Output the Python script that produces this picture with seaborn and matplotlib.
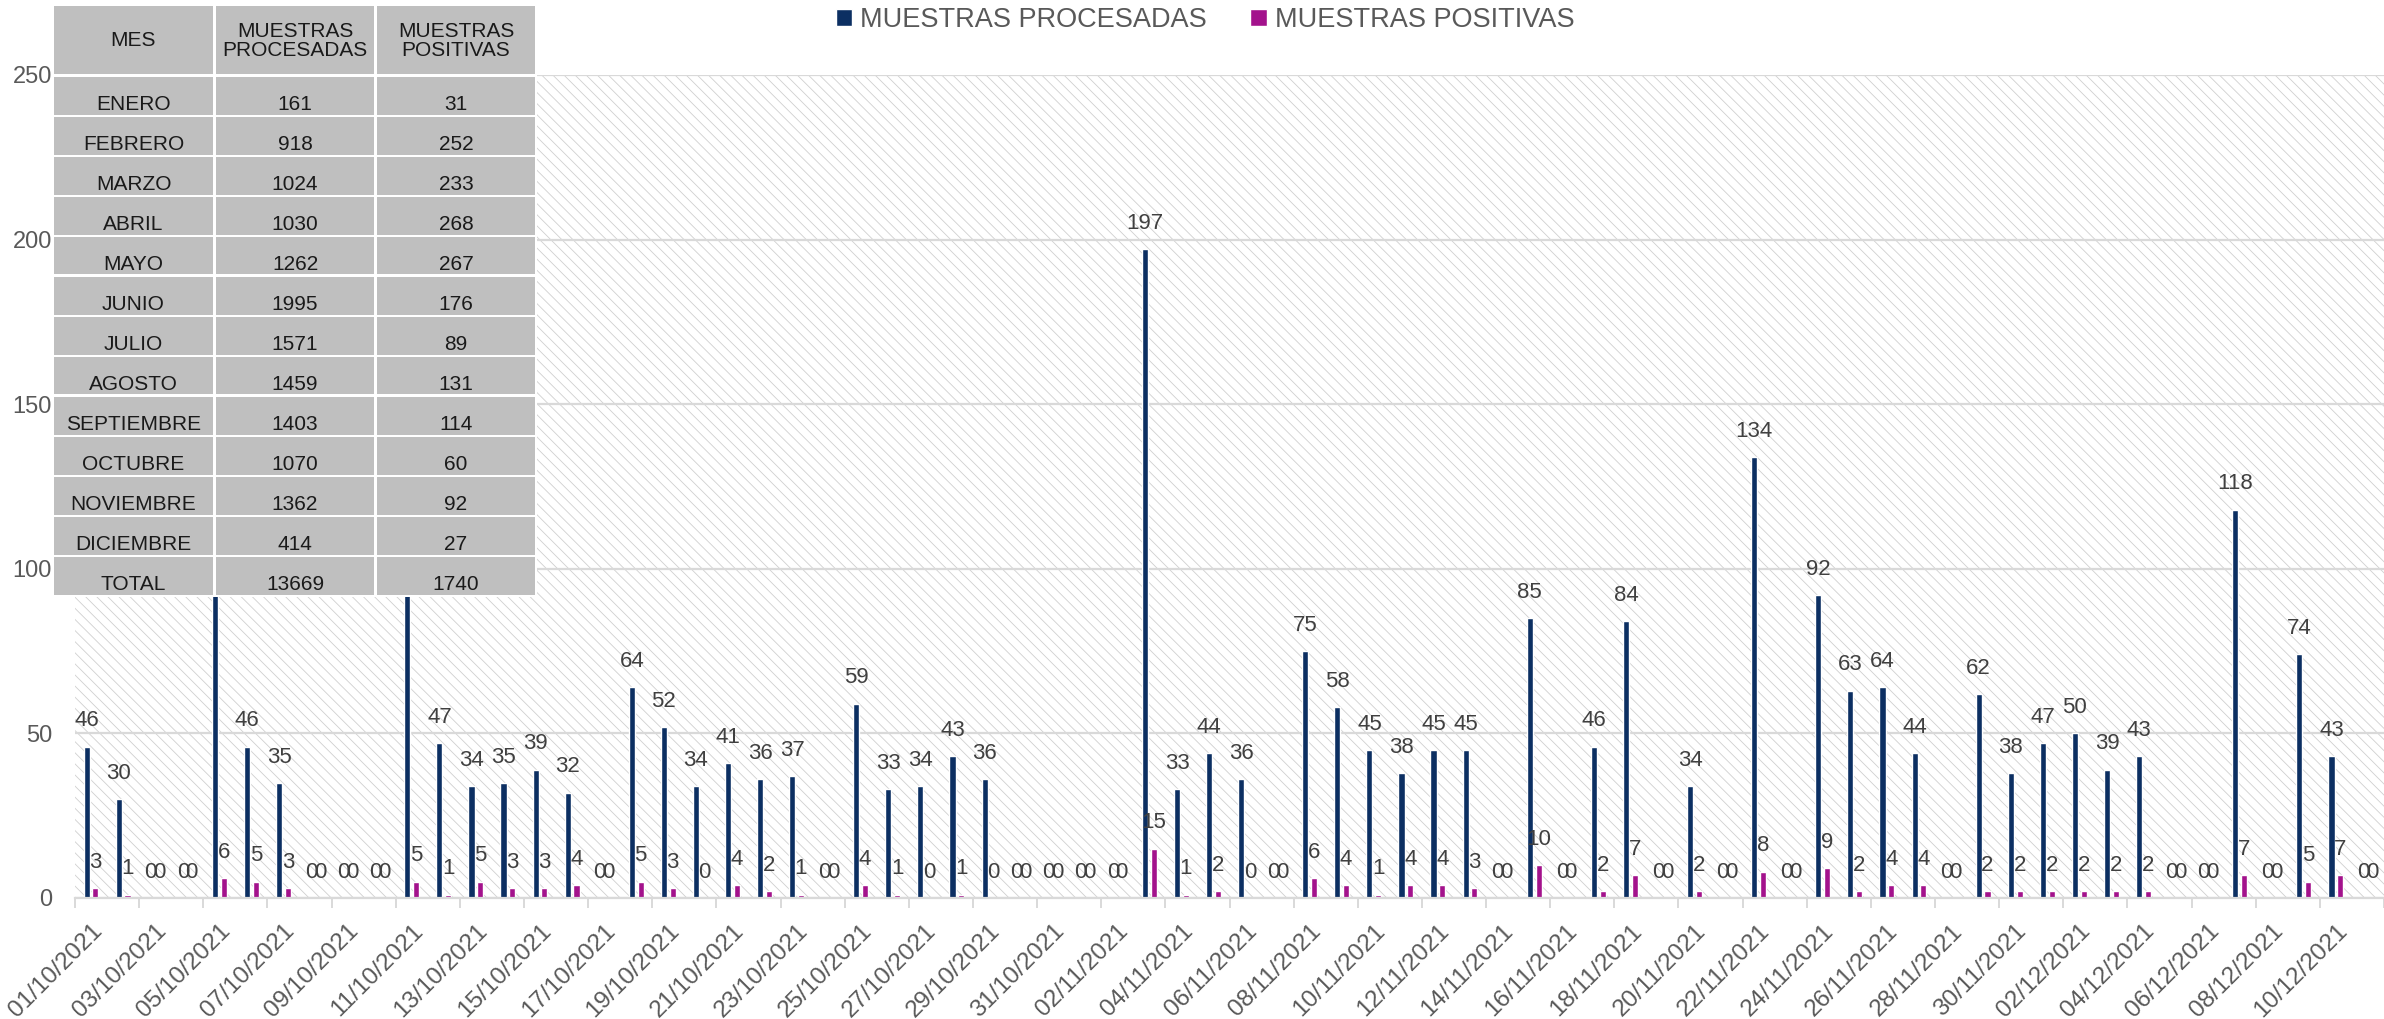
import numpy as np
import pandas as pd
import matplotlib.pyplot as plt
import seaborn as sns
from matplotlib.patches import Rectangle

# Daily values, 01/10/2021 - 11/12/2021 (05/10 and 11/10 sit behind the table,
# estimated so that October adds up to 1070)
fechas = pd.date_range('2021-10-01', '2021-12-11').strftime('%d/%m/%Y').tolist()
procesadas = [46, 30, 0, 0, 130, 46, 35, 0, 0, 0, 127, 47, 34, 35, 39, 32, 0, 64, 52, 34,
              41, 36, 37, 0, 59, 33, 34, 43, 36, 0, 0,
              0, 0, 197, 33, 44, 36, 0, 75, 58, 45, 38, 45, 45, 0, 85, 0, 46, 84, 0,
              34, 0, 134, 0, 92, 63, 64, 44, 0, 62, 38,
              47, 50, 39, 43, 0, 0, 118, 0, 74, 43, 0]
positivas = [3, 1, 0, 0, 6, 5, 3, 0, 0, 0, 5, 1, 5, 3, 3, 4, 0, 5, 3, 0,
             4, 2, 1, 0, 4, 1, 0, 1, 0, 0, 0,
             0, 0, 15, 1, 2, 0, 0, 6, 4, 1, 4, 4, 3, 0, 10, 0, 2, 7, 0,
             2, 0, 8, 0, 9, 2, 4, 4, 0, 2, 2,
             2, 2, 2, 2, 0, 0, 7, 0, 5, 7, 0]

# Monthly summary table
meses = ['ENERO', 'FEBRERO', 'MARZO', 'ABRIL', 'MAYO', 'JUNIO', 'JULIO', 'AGOSTO',
         'SEPTIEMBRE', 'OCTUBRE', 'NOVIEMBRE', 'DICIEMBRE', 'TOTAL']
mes_procesadas = [161, 918, 1024, 1030, 1262, 1995, 1571, 1459, 1403, 1070, 1362, 414, 13669]
mes_positivas = [31, 252, 233, 268, 267, 176, 89, 131, 114, 60, 92, 27, 1740]

series = ['MUESTRAS PROCESADAS', 'MUESTRAS POSITIVAS']
colores = ['#0c2f62', '#a3128c']

df = pd.DataFrame({
    'fecha': fechas * 2,
    'valor': procesadas + positivas,
    'serie': [series[0]] * len(fechas) + [series[1]] * len(fechas),
})

sns.set_style('white')
plt.rcParams['font.family'] = ['Liberation Sans', 'DejaVu Sans']
plt.rcParams['hatch.linewidth'] = 0.6

W, H = 2384, 1019
fig = plt.figure(figsize=(W / 100, H / 100), dpi=100)
ax = fig.add_axes([75 / W, 1 - 898 / H, (W - 75) / W, (898 - 75) / H])

# hatched plot background
ax.add_patch(Rectangle((0, 0), 1, 1, transform=ax.transAxes, facecolor='white',
                       edgecolor='#cfcfcf', hatch='\\\\\\', lw=0, zorder=0))

sns.barplot(data=df, x='fecha', y='valor', hue='serie', palette=colores,
            saturation=1, width=0.55, gap=0.31, ax=ax, zorder=2)

for c in ax.containers:
    ax.bar_label(c, fmt='%d', padding=11, fontsize=16, color='#404040')

ax.set_xlim(-0.5, 71.05)
ax.set_ylim(0, 250)
ax.set_yticks(range(0, 251, 50))
ax.yaxis.grid(True, color='#d9d9d9', lw=1.6)
ax.set_axisbelow(True)
ax.tick_params(axis='y', length=0, labelsize=17, labelcolor='#595959', pad=16.5)

ax.set_xticks(range(0, 72, 2))
ax.set_xticklabels(fechas[::2], rotation=45, ha='right', va='top', rotation_mode='anchor')
ax.set_xticks(np.arange(-0.5, 72, 2), minor=True)
ax.tick_params(axis='x', which='major', length=0, labelsize=17.5, labelcolor='#595959', pad=16)
ax.tick_params(axis='x', which='minor', length=7, width=1.4, color='#d9d9d9', bottom=True)
ax.set_xlabel('')
ax.set_ylabel('')
for s in ['top', 'right', 'left']:
    ax.spines[s].set_visible(False)
ax.spines['bottom'].set_color('#d9d9d9')
ax.spines['bottom'].set_linewidth(1.6)

sns.move_legend(ax, 'center', bbox_to_anchor=(0.5055, 1 - 20 / H), bbox_transform=fig.transFigure,
                ncol=2, title=None, frameon=False, fontsize=19.5, labelcolor='#595959',
                handlelength=0.6, handleheight=0.6, handletextpad=0.3, columnspacing=1.6)


# summary table drawn on top of the chart (pixel coordinates)
def px_rect(x0, y0, x1, y1, **kw):
    fig.add_artist(Rectangle((x0 / W, 1 - y1 / H), (x1 - x0) / W, (y1 - y0) / H,
                             transform=fig.transFigure, **kw))


def px_text(x, y, s, **kw):
    fig.text(x / W, 1 - y / H, s, ha='center', fontsize=15, color='#1a1a1a', zorder=6, **kw)


cols = [(54, 213), (216, 374), (377, 535)]
px_rect(52, 4, 537, 597, facecolor='white', lw=0, zorder=4)
header = ['MES', 'MUESTRAS\nPROCESADAS', 'MUESTRAS\nPOSITIVAS']
for (x0, x1), h in zip(cols, header):
    px_rect(x0, 6, x1, 74, facecolor='#bfbfbf', lw=0, zorder=5)
    px_text((x0 + x1) / 2, 41, h, va='center', linespacing=0.95)
for i, fila in enumerate(zip(meses, mes_procesadas, mes_positivas)):
    y0 = 77 + 40 * i
    for (x0, x1), v in zip(cols, fila):
        px_rect(x0, y0, x1, y0 + 37.5, facecolor='#bfbfbf', lw=0, zorder=5)
        px_text((x0 + x1) / 2, y0 + 33, str(v), va='baseline')

fig.savefig('out.png', dpi=100)
